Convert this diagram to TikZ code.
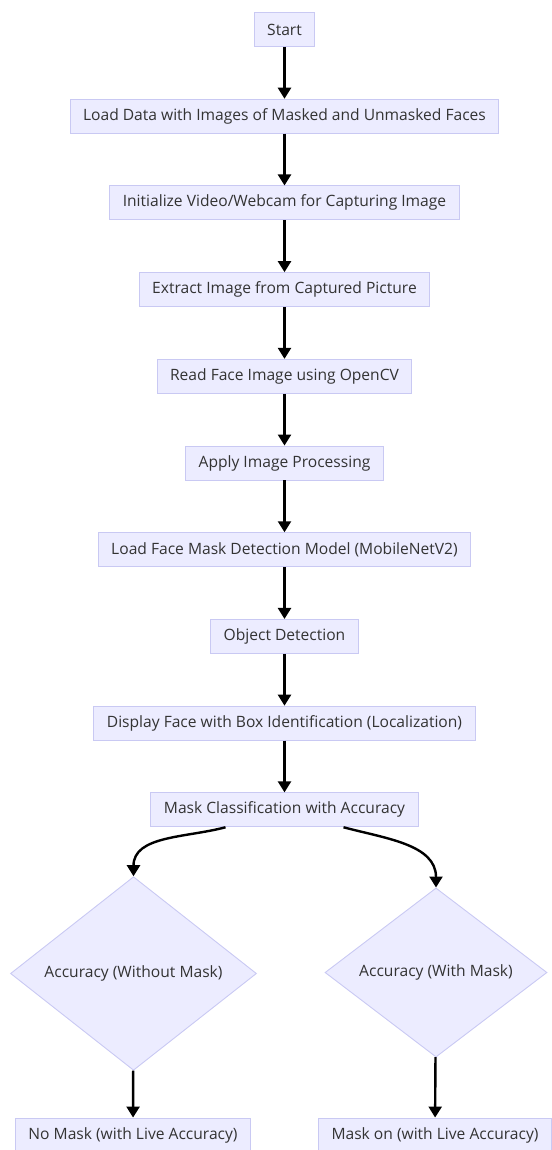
\documentclass[tikz,border=0pt]{standalone}
\usepackage{fontspec}
\setmainfont{Open Sans}
\usepackage{tikz}
\usetikzlibrary{arrows.meta, positioning, shapes.geometric}
\definecolor{nodeFill}{HTML}{ECECFF}
\definecolor{nodeLine}{HTML}{C9C9F3}
\definecolor{textGray}{HTML}{333333}
\tikzset{
  proc/.style={
    draw=nodeLine, fill=nodeFill, line width=0.9pt,
    inner xsep=13pt, minimum height=34pt, text=textGray,
    font=\fontsize{15.6}{18}\selectfont
  },
  decide/.style={
    diamond, draw=nodeLine, fill=nodeFill, line width=0.9pt,
    inner sep=0pt, text=textGray, font=\fontsize{15.6}{18}\selectfont
  },
  arrow/.style={-{Triangle[length=11pt, width=13pt]}, line width=2.4pt}
}

\begin{document}
\begin{tikzpicture}[x=1pt, y=1pt, node distance=51.8pt]
  \useasboundingbox (0,0) rectangle (551,-1150);
  \node[proc] (start) at (284.5,-29.5) {Start};
  \node[proc, below=of start] (load) {Load Data with Images of Masked and Unmasked Faces};
  \node[proc, below=of load] (cam) {Initialize Video/Webcam for Capturing Image};
  \node[proc, below=of cam] (extract) {Extract Image from Captured Picture};
  \node[proc, below=of extract] (read) {Read Face Image using OpenCV};
  \node[proc, below=of read] (process) {Apply Image Processing};
  \node[proc, below=of process] (model) {Load Face Mask Detection Model (MobileNetV2)};
  \node[proc, below=of model] (detect) {Object Detection};
  \node[proc, below=of detect] (display) {Display Face with Box Identification (Localization)};
  \node[proc, below=of display] (classify) {Mask Classification with Accuracy};
  % two outcomes
  \node[decide, minimum width=246pt, minimum height=187pt] (nomaskacc) at (133.5,-973.5) {Accuracy (Without Mask)};
  \node[decide, minimum width=222pt, minimum height=168pt] (maskacc) at (436,-972.5) {Accuracy (With Mask)};
  \node[proc] (nomask) at (133,-1135) {No Mask (with Live Accuracy)};
  \node[proc] (maskon) at (435,-1135) {Mask on (with Live Accuracy)};

  \draw[arrow] (start) -- (load);
  \draw[arrow] (load) -- (cam);
  \draw[arrow] (cam) -- (extract);
  \draw[arrow] (extract) -- (read);
  \draw[arrow] (read) -- (process);
  \draw[arrow] (process) -- (model);
  \draw[arrow] (model) -- (detect);
  \draw[arrow] (detect) -- (display);
  \draw[arrow] (display) -- (classify);
  \draw[arrow] ([xshift=-59pt]classify.south) to[out=195, in=90] (nomaskacc.north);
  \draw[arrow] ([xshift=59pt]classify.south) to[out=-15, in=90] (maskacc.north);
  \draw[arrow] (nomaskacc) -- (nomask);
  \draw[arrow] (maskacc) -- (maskon);
\end{tikzpicture}
\end{document}
